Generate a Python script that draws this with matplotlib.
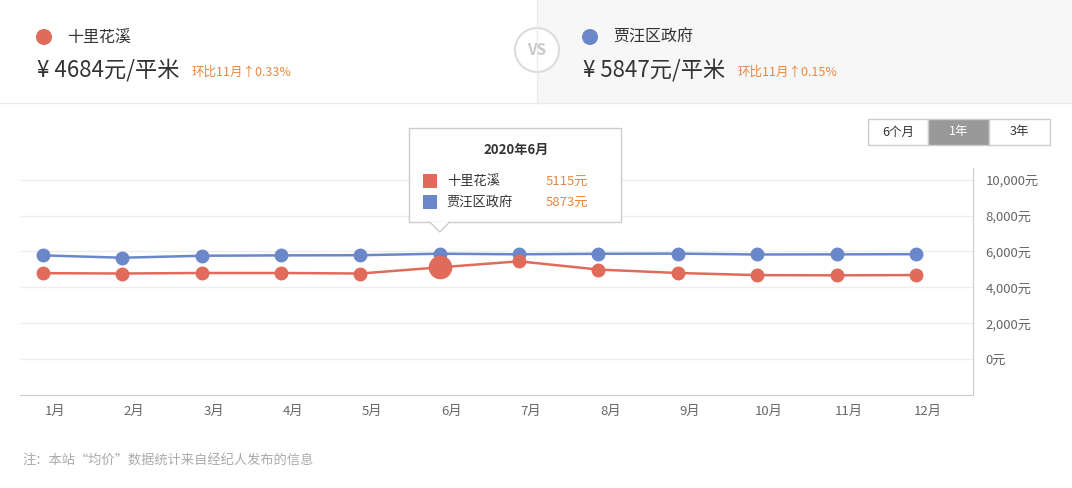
import matplotlib.pyplot as plt
from matplotlib.patches import Rectangle, Circle, Polygon
import numpy as np

plt.rcParams['font.family'] = ['Noto Sans CJK SC', 'DejaVu Sans']

# data
months = ['1月', '2月', '3月', '4月', '5月', '6月', '7月', '8月', '9月', '10月', '11月', '12月']
shili = [4790, 4770, 4800, 4800, 4770, 5115, 5450, 4990, 4800, 4680, 4669, 4684]
jiawang = [5780, 5650, 5760, 5780, 5790, 5873, 5840, 5870, 5880, 5830, 5838, 5847]
names = ['十里花溪', '贾汪区政府']
prices = [4684, 5847]
changes = ['环比11月↑0.33%', '环比11月↑0.15%']
yticks = [0, 2000, 4000, 6000, 8000, 10000]
ytick_labels = ['0元', '2,000元', '4,000元', '6,000元', '8,000元', '10,000元']
ranges = ['6个月', '1年', '3年']
hover = 5
hover_title = '2020年6月'
note = '注：本站“均价”数据统计来自经纪人发布的信息'

RED = '#e06b5a'
BLUE = '#6a87c9'
ORANGE = '#e8873f'
W, H = 1072, 488

fig = plt.figure(figsize=(W / 100, H / 100), dpi=100)

# background / header, in pixel coords
bg = fig.add_axes([0, 0, 1, 1])
bg.set_xlim(0, W)
bg.set_ylim(H, 0)
bg.axis('off')
bg.add_patch(Rectangle((537, 0), W - 537, 103, fc='#f7f7f7', ec='none'))
bg.plot([0, W], [103, 103], color='#ebebeb', lw=1)
bg.plot([537, 537], [0, 103], color='#ebebeb', lw=1)

for i, (name, price, chg, col) in enumerate(zip(names, prices, changes, [RED, BLUE])):
    x0 = 37 + i * 546
    bg.add_patch(Circle((x0 + 7, 37), 8, fc=col, ec='none'))
    bg.text(x0 + 30, 37, name, fontsize=11.5, color='#333', va='center')
    bg.text(x0, 70, f'¥ {price}元/平米', fontsize=16, color='#333', va='center')
    bg.text(x0 + 155, 72, chg, fontsize=9, color=ORANGE, va='center')

bg.add_patch(Circle((537, 50), 22, fc='white', ec='#dcdcdc', lw=1.5))
bg.text(537, 50, 'VS', fontsize=11, color='#c8c8c8', ha='center', va='center', fontweight='bold')

# range buttons
bx = [868, 928, 989, 1050]
for i, lab in enumerate(ranges):
    sel = lab == '1年'
    bg.add_patch(Rectangle((bx[i], 119), bx[i + 1] - bx[i], 26,
                           fc='#999999' if sel else 'white', ec='#cccccc', lw=1))
    bg.text((bx[i] + bx[i + 1]) / 2, 132, lab, fontsize=9,
            color='white' if sel else '#333', ha='center', va='center')

bg.text(22, 461, note, fontsize=9.5, color='#aaaaaa', va='center')

# main chart
ax = fig.add_axes([20 / W, (H - 395) / H, (973 - 20) / W, (395 - 168) / H])
x = np.arange(len(months))
ax.plot(x, jiawang, color=BLUE, lw=1.8, marker='o', ms=9, zorder=3)
ax.plot(x, shili, color=RED, lw=1.8, marker='o', ms=9, zorder=3)
ax.plot(x[hover], shili[hover], 'o', ms=16, color=RED, zorder=4)
ax.set_xlim(-0.29, 11.72)
ax.set_ylim(-2000, 10650)
for s in ['top', 'left']:
    ax.spines[s].set_visible(False)
for s in ['right', 'bottom']:
    ax.spines[s].set_color('#cccccc')
ax.yaxis.tick_right()
ax.set_yticks(yticks)
ax.set_yticklabels(ytick_labels)
ax.set_xticks(x + 0.15)
ax.set_xticklabels(months)
ax.tick_params(axis='y', length=0, pad=9, labelsize=9.5, labelcolor='#666')
ax.tick_params(axis='x', length=0, pad=7, labelsize=9.5, labelcolor='#666')
ax.grid(axis='y', color='#eeeeee', lw=1)
ax.set_axisbelow(True)

# tooltip
fig.canvas.draw()
tip_x = ax.transData.transform((x[hover], 0))[0]
top = fig.add_axes([0, 0, 1, 1], zorder=10)
top.set_xlim(0, W)
top.set_ylim(H, 0)
top.axis('off')
bx0 = tip_x - 31
top.add_patch(Rectangle((bx0, 128), 212, 94, fc='white', ec='#cccccc', lw=1))
top.add_patch(Polygon([(tip_x - 10, 222), (tip_x, 232), (tip_x + 10, 222)],
                      closed=True, fc='white', ec='none'))
top.plot([tip_x - 10, tip_x, tip_x + 10], [222, 232, 222], color='#cccccc', lw=1)
top.text(bx0 + 107, 150, hover_title, fontsize=9.5, fontweight='bold', color='#333',
         ha='center', va='center')
for j, (name, vals, col) in enumerate(zip(names, [shili, jiawang], [RED, BLUE])):
    yy = 181 + j * 21
    top.add_patch(Rectangle((bx0 + 14, yy - 7), 14, 14, fc=col, ec='none'))
    top.text(bx0 + 38, yy, name, fontsize=9.5, color='#333', va='center')
    top.text(bx0 + 137, yy, f'{vals[hover]}元', fontsize=9.5, color=ORANGE, va='center')

fig.savefig('out.png', dpi=100)
